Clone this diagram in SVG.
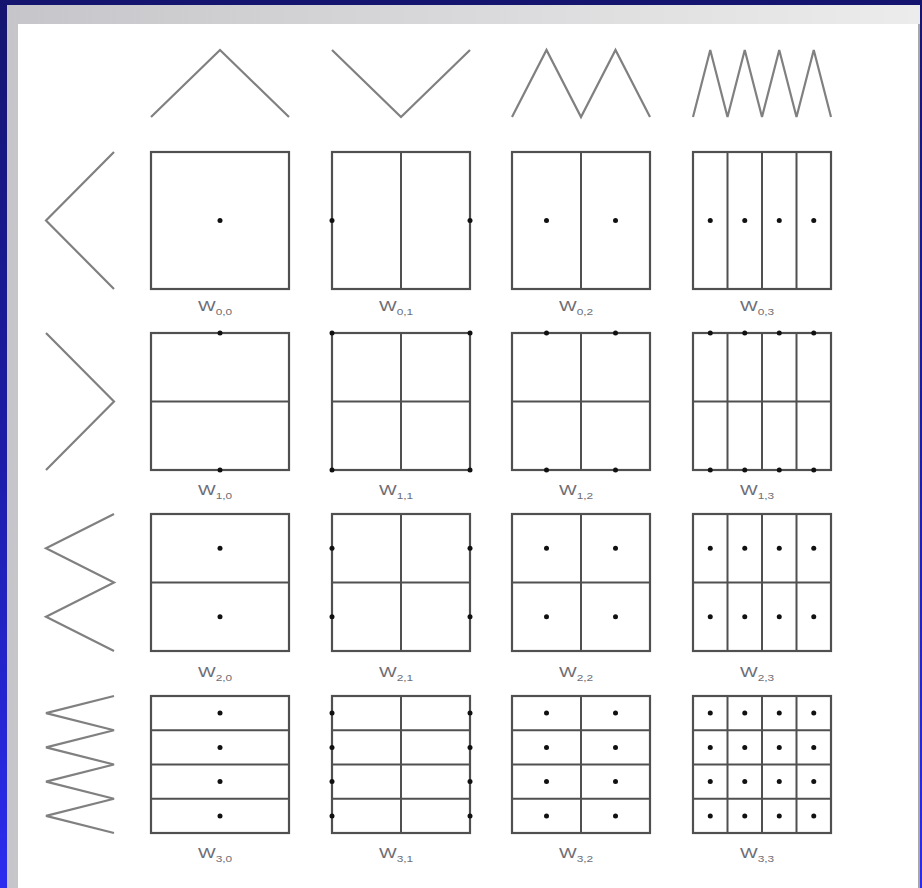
<svg xmlns="http://www.w3.org/2000/svg" width="922" height="888" viewBox="0 0 922 888">
<defs>
<linearGradient id="bg" x1="0" y1="0" x2="0" y2="1">
<stop offset="0" stop-color="#15156f"/>
<stop offset="0.5" stop-color="#1c1ca6"/>
<stop offset="1" stop-color="#2c2cf0"/>
</linearGradient>
<linearGradient id="fr" x1="0" y1="0" x2="1" y2="0">
<stop offset="0" stop-color="#c6c6ca"/>
<stop offset="1" stop-color="#ececec"/>
</linearGradient>
<style>
.box{fill:none;stroke:#505050;stroke-width:2.2}
.div{fill:none;stroke:#505050;stroke-width:2}
.wave{fill:none;stroke:#808080;stroke-width:2.2;stroke-linejoin:miter}
.dot{fill:#111}
.lbl{font-family:"Liberation Sans",Arial,sans-serif;font-size:15px;fill:#6e6e76}
.sub{font-size:9.5px}
</style>
</defs>
<rect width="922" height="888" fill="url(#bg)"/>
<rect x="7" y="5" width="913" height="883" fill="url(#fr)"/>
<rect x="18" y="24" width="900" height="864" fill="#ffffff"/>
<rect x="918" y="24" width="2" height="864" fill="#a8a8a8"/>

<g id="top-waves">
<path class="wave" d="M151,117 L220,50 L289,117"/>
<path class="wave" d="M332,50 L401,117 L470,50"/>
<path class="wave" d="M512,117 L546.5,50 L581,117 L615.5,50 L650,117"/>
<path class="wave" d="M693,117 L710.25,50 L727.5,117 L744.75,50 L762,117 L779.25,50 L796.5,117 L813.75,50 L831,117"/>
</g>
<g id="left-waves">
<path class="wave" d="M114,152 L46,220.5 L114,289"/>
<path class="wave" d="M46,333 L114,401.5 L46,470"/>
<path class="wave" d="M114,514 L46,548.25 L114,582.5 L46,616.75 L114,651"/>
<path class="wave" d="M114,696 L46,713.1 L114,730.25 L46,747.4 L114,764.5 L46,781.6 L114,798.75 L46,815.9 L114,833"/>
</g>

<g id="W00">
<rect class="box" x="151" y="152" width="138" height="137"/>
<circle class="dot" cx="220" cy="220.5" r="2.5"/>
<text class="lbl" transform="translate(198,311) scale(1.25,1)">W<tspan class="sub" dy="4">0,0</tspan></text>
</g>
<g id="W01">
<rect class="box" x="332" y="152" width="138" height="137"/>
<path class="div" d="M401,152V289"/>
<circle class="dot" cx="332" cy="220.5" r="2.5"/><circle class="dot" cx="470" cy="220.5" r="2.5"/>
<text class="lbl" transform="translate(379,311) scale(1.25,1)">W<tspan class="sub" dy="4">0,1</tspan></text>
</g>
<g id="W02">
<rect class="box" x="512" y="152" width="138" height="137"/>
<path class="div" d="M581,152V289"/>
<circle class="dot" cx="546.5" cy="220.5" r="2.5"/><circle class="dot" cx="615.5" cy="220.5" r="2.5"/>
<text class="lbl" transform="translate(559,311) scale(1.25,1)">W<tspan class="sub" dy="4">0,2</tspan></text>
</g>
<g id="W03">
<rect class="box" x="693" y="152" width="138" height="137"/>
<path class="div" d="M727.5,152V289M762,152V289M796.5,152V289"/>
<circle class="dot" cx="710.25" cy="220.5" r="2.5"/><circle class="dot" cx="744.75" cy="220.5" r="2.5"/><circle class="dot" cx="779.25" cy="220.5" r="2.5"/><circle class="dot" cx="813.75" cy="220.5" r="2.5"/>
<text class="lbl" transform="translate(740,311) scale(1.25,1)">W<tspan class="sub" dy="4">0,3</tspan></text>
</g>

<g id="W10">
<rect class="box" x="151" y="333" width="138" height="137"/>
<path class="div" d="M151,401.5H289"/>
<circle class="dot" cx="220" cy="333" r="2.5"/><circle class="dot" cx="220" cy="470" r="2.5"/>
<text class="lbl" transform="translate(198,495) scale(1.25,1)">W<tspan class="sub" dy="4">1,0</tspan></text>
</g>
<g id="W11">
<rect class="box" x="332" y="333" width="138" height="137"/>
<path class="div" d="M401,333V470M332,401.5H470"/>
<circle class="dot" cx="332" cy="333" r="2.5"/><circle class="dot" cx="470" cy="333" r="2.5"/><circle class="dot" cx="332" cy="470" r="2.5"/><circle class="dot" cx="470" cy="470" r="2.5"/>
<text class="lbl" transform="translate(379,495) scale(1.25,1)">W<tspan class="sub" dy="4">1,1</tspan></text>
</g>
<g id="W12">
<rect class="box" x="512" y="333" width="138" height="137"/>
<path class="div" d="M581,333V470M512,401.5H650"/>
<circle class="dot" cx="546.5" cy="333" r="2.5"/><circle class="dot" cx="615.5" cy="333" r="2.5"/><circle class="dot" cx="546.5" cy="470" r="2.5"/><circle class="dot" cx="615.5" cy="470" r="2.5"/>
<text class="lbl" transform="translate(559,495) scale(1.25,1)">W<tspan class="sub" dy="4">1,2</tspan></text>
</g>
<g id="W13">
<rect class="box" x="693" y="333" width="138" height="137"/>
<path class="div" d="M727.5,333V470M762,333V470M796.5,333V470M693,401.5H831"/>
<circle class="dot" cx="710.25" cy="333" r="2.5"/><circle class="dot" cx="744.75" cy="333" r="2.5"/><circle class="dot" cx="779.25" cy="333" r="2.5"/><circle class="dot" cx="813.75" cy="333" r="2.5"/>
<circle class="dot" cx="710.25" cy="470" r="2.5"/><circle class="dot" cx="744.75" cy="470" r="2.5"/><circle class="dot" cx="779.25" cy="470" r="2.5"/><circle class="dot" cx="813.75" cy="470" r="2.5"/>
<text class="lbl" transform="translate(740,495) scale(1.25,1)">W<tspan class="sub" dy="4">1,3</tspan></text>
</g>

<g id="W20">
<rect class="box" x="151" y="514" width="138" height="137"/>
<path class="div" d="M151,582.5H289"/>
<circle class="dot" cx="220" cy="548.25" r="2.5"/><circle class="dot" cx="220" cy="616.75" r="2.5"/>
<text class="lbl" transform="translate(198,677) scale(1.25,1)">W<tspan class="sub" dy="4">2,0</tspan></text>
</g>
<g id="W21">
<rect class="box" x="332" y="514" width="138" height="137"/>
<path class="div" d="M401,514V651M332,582.5H470"/>
<circle class="dot" cx="332" cy="548.25" r="2.5"/><circle class="dot" cx="470" cy="548.25" r="2.5"/><circle class="dot" cx="332" cy="616.75" r="2.5"/><circle class="dot" cx="470" cy="616.75" r="2.5"/>
<text class="lbl" transform="translate(379,677) scale(1.25,1)">W<tspan class="sub" dy="4">2,1</tspan></text>
</g>
<g id="W22">
<rect class="box" x="512" y="514" width="138" height="137"/>
<path class="div" d="M581,514V651M512,582.5H650"/>
<circle class="dot" cx="546.5" cy="548.25" r="2.5"/><circle class="dot" cx="615.5" cy="548.25" r="2.5"/><circle class="dot" cx="546.5" cy="616.75" r="2.5"/><circle class="dot" cx="615.5" cy="616.75" r="2.5"/>
<text class="lbl" transform="translate(559,677) scale(1.25,1)">W<tspan class="sub" dy="4">2,2</tspan></text>
</g>
<g id="W23">
<rect class="box" x="693" y="514" width="138" height="137"/>
<path class="div" d="M727.5,514V651M762,514V651M796.5,514V651M693,582.5H831"/>
<circle class="dot" cx="710.25" cy="548.25" r="2.5"/><circle class="dot" cx="744.75" cy="548.25" r="2.5"/><circle class="dot" cx="779.25" cy="548.25" r="2.5"/><circle class="dot" cx="813.75" cy="548.25" r="2.5"/>
<circle class="dot" cx="710.25" cy="616.75" r="2.5"/><circle class="dot" cx="744.75" cy="616.75" r="2.5"/><circle class="dot" cx="779.25" cy="616.75" r="2.5"/><circle class="dot" cx="813.75" cy="616.75" r="2.5"/>
<text class="lbl" transform="translate(740,677) scale(1.25,1)">W<tspan class="sub" dy="4">2,3</tspan></text>
</g>

<g id="W30">
<rect class="box" x="151" y="696" width="138" height="137"/>
<path class="div" d="M151,730.25H289M151,764.5H289M151,798.75H289"/>
<circle class="dot" cx="220" cy="713.1" r="2.5"/><circle class="dot" cx="220" cy="747.4" r="2.5"/><circle class="dot" cx="220" cy="781.6" r="2.5"/><circle class="dot" cx="220" cy="815.9" r="2.5"/>
<text class="lbl" transform="translate(198,858) scale(1.25,1)">W<tspan class="sub" dy="4">3,0</tspan></text>
</g>
<g id="W31">
<rect class="box" x="332" y="696" width="138" height="137"/>
<path class="div" d="M401,696V833M332,730.25H470M332,764.5H470M332,798.75H470"/>
<circle class="dot" cx="332" cy="713.1" r="2.5"/><circle class="dot" cx="332" cy="747.4" r="2.5"/><circle class="dot" cx="332" cy="781.6" r="2.5"/><circle class="dot" cx="332" cy="815.9" r="2.5"/>
<circle class="dot" cx="470" cy="713.1" r="2.5"/><circle class="dot" cx="470" cy="747.4" r="2.5"/><circle class="dot" cx="470" cy="781.6" r="2.5"/><circle class="dot" cx="470" cy="815.9" r="2.5"/>
<text class="lbl" transform="translate(379,858) scale(1.25,1)">W<tspan class="sub" dy="4">3,1</tspan></text>
</g>
<g id="W32">
<rect class="box" x="512" y="696" width="138" height="137"/>
<path class="div" d="M581,696V833M512,730.25H650M512,764.5H650M512,798.75H650"/>
<circle class="dot" cx="546.5" cy="713.1" r="2.5"/><circle class="dot" cx="546.5" cy="747.4" r="2.5"/><circle class="dot" cx="546.5" cy="781.6" r="2.5"/><circle class="dot" cx="546.5" cy="815.9" r="2.5"/>
<circle class="dot" cx="615.5" cy="713.1" r="2.5"/><circle class="dot" cx="615.5" cy="747.4" r="2.5"/><circle class="dot" cx="615.5" cy="781.6" r="2.5"/><circle class="dot" cx="615.5" cy="815.9" r="2.5"/>
<text class="lbl" transform="translate(559,858) scale(1.25,1)">W<tspan class="sub" dy="4">3,2</tspan></text>
</g>
<g id="W33">
<rect class="box" x="693" y="696" width="138" height="137"/>
<path class="div" d="M727.5,696V833M762,696V833M796.5,696V833M693,730.25H831M693,764.5H831M693,798.75H831"/>
<circle class="dot" cx="710.25" cy="713.1" r="2.5"/><circle class="dot" cx="744.75" cy="713.1" r="2.5"/><circle class="dot" cx="779.25" cy="713.1" r="2.5"/><circle class="dot" cx="813.75" cy="713.1" r="2.5"/>
<circle class="dot" cx="710.25" cy="747.4" r="2.5"/><circle class="dot" cx="744.75" cy="747.4" r="2.5"/><circle class="dot" cx="779.25" cy="747.4" r="2.5"/><circle class="dot" cx="813.75" cy="747.4" r="2.5"/>
<circle class="dot" cx="710.25" cy="781.6" r="2.5"/><circle class="dot" cx="744.75" cy="781.6" r="2.5"/><circle class="dot" cx="779.25" cy="781.6" r="2.5"/><circle class="dot" cx="813.75" cy="781.6" r="2.5"/>
<circle class="dot" cx="710.25" cy="815.9" r="2.5"/><circle class="dot" cx="744.75" cy="815.9" r="2.5"/><circle class="dot" cx="779.25" cy="815.9" r="2.5"/><circle class="dot" cx="813.75" cy="815.9" r="2.5"/>
<text class="lbl" transform="translate(740,858) scale(1.25,1)">W<tspan class="sub" dy="4">3,3</tspan></text>
</g>
</svg>
